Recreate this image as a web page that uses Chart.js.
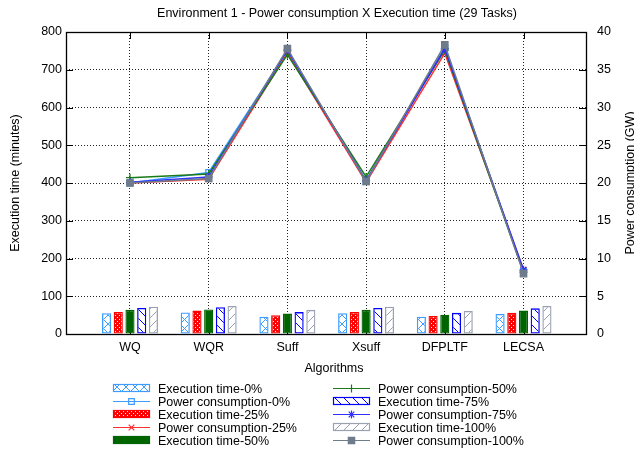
<!DOCTYPE html>
<html><head><meta charset="utf-8">
<script src="https://cdn.jsdelivr.net/npm/chart.js@4.4.1/dist/chart.umd.min.js"></script>
<style>html,body{margin:0;padding:0;background:#fff}canvas{display:block}</style>
</head><body>
<canvas id="c" width="634" height="453"></canvas>
<script>
// ---------- data ----------
const categories = ['WQ', 'WQR', 'Suff', 'Xsuff', 'DFPLTF', 'LECSA'];
// Execution time (minutes) - left axis
const execTime0   = [55, 57, 46, 55, 46, 53];
const execTime25  = [58, 62, 50, 58, 48, 56];
const execTime50  = [64, 65, 54, 64, 51, 62];
const execTime75  = [69, 71, 58, 69, 56, 68];
const execTime100 = [72, 74, 64, 72, 61, 74];
// Power consumption (GW) - right axis
const power0   = [20.0, 21.4, 37.5, 20.2, 37.9, 8.3];
const power25  = [20.0, 20.5, 37.2, 20.1, 37.2, 8.5];
const power50  = [20.7, 21.2, 37.0, 20.8, 37.6, 8.2];
const power75  = [20.1, 20.8, 37.6, 20.3, 37.8, 8.5];
const power100 = [20.0, 20.6, 37.8, 20.2, 38.3, 8.0];
// axis ticks
const leftTicks = [0, 100, 200, 300, 400, 500, 600, 700, 800];
const rightTicks = [0, 5, 10, 15, 20, 25, 30, 35, 40];

const titleText = 'Environment 1 - Power consumption X Execution time (29 Tasks)';
const xTitle = 'Algorithms';
const yTitle = 'Execution time (minutes)';
const y2Title = 'Power consumption (GW)';

// ---------- styles ----------
const FONT = '"Liberation Sans", Arial, Helvetica, sans-serif';
const FS = 12.5;
const C_LB = '#3c9cff', C_RED = '#ff0000', C_GREEN = '#006400', C_BLUE = '#0000ff', C_GRAY = '#9aa2b2';
const L_LB = '#3c9cff', L_RED = '#ff3030', L_GREEN = '#1a7a1a', L_BLUE = '#3030ff', L_GRAY = '#6e7b8b';

const mainCtx = document.getElementById('c').getContext('2d');
function pat(w, h, fn) {
  const c = document.createElement('canvas'); c.width = w; c.height = h;
  const g = c.getContext('2d'); fn(g, w, h);
  return mainCtx.createPattern(c, 'repeat');
}
const P0 = pat(9, 9, (g, w, h) => {
  g.strokeStyle = C_LB; g.lineWidth = 1;
  g.beginPath(); g.moveTo(-1, -1); g.lineTo(w + 1, h + 1); g.moveTo(-1, h + 1); g.lineTo(w + 1, -1); g.stroke();
});
const P25 = pat(4, 4, (g) => {
  g.fillStyle = C_RED; g.fillRect(0, 0, 4, 4);
  g.fillStyle = '#ffffff'; g.fillRect(1, 1, 1, 1); g.fillRect(3, 3, 1, 1);
});
const P75 = pat(9, 9, (g, w, h) => {
  g.strokeStyle = C_BLUE; g.lineWidth = 1;
  g.beginPath(); g.moveTo(-1, -1); g.lineTo(w + 1, h + 1);
  g.moveTo(w - 1, -1); g.lineTo(w + 1, 1); g.moveTo(-1, h - 1); g.lineTo(1, h + 1); g.stroke();
});
const P100 = pat(9, 9, (g, w, h) => {
  g.strokeStyle = C_GRAY; g.lineWidth = 1;
  g.beginPath(); g.moveTo(-1, h + 1); g.lineTo(w + 1, -1);
  g.moveTo(-1, 1); g.lineTo(1, -1); g.moveTo(w - 1, h + 1); g.lineTo(w + 1, h - 1); g.stroke();
});

const xy = arr => arr.map((v, i) => ({x: i, y: v}));

function barDS(label, data, fill, border) {
  return {type: 'bar', label, data: xy(data), yAxisID: 'y', backgroundColor: fill, borderColor: border,
    borderWidth: 1.3, borderSkipped: false, categoryPercentage: 0.744, barPercentage: 0.78, order: 20};
}
function lineDS(label, data, color, style, radius, bg, order) {
  return {type: 'line', label, data: xy(data), yAxisID: 'y1', borderColor: color, borderWidth: 1.5,
    pointStyle: style, pointRadius: radius, pointBorderColor: style === 'rect' && bg !== 'transparent' ? bg : color,
    pointBackgroundColor: bg, pointBorderWidth: 1.3, tension: 0, fill: false, order};
}

const datasets = [
  barDS('Execution time-0%', execTime0, P0, C_LB),
  lineDS('Power consumption-0%', power0, L_LB, 'rect', 4, 'transparent', 5),
  barDS('Execution time-25%', execTime25, P25, C_RED),
  lineDS('Power consumption-25%', power25, L_RED, 'crossRot', 4, L_RED, 4),
  barDS('Execution time-50%', execTime50, C_GREEN, C_GREEN),
  lineDS('Power consumption-50%', power50, L_GREEN, 'cross', 4, L_GREEN, 3),
  barDS('Execution time-75%', execTime75, P75, C_BLUE),
  lineDS('Power consumption-75%', power75, L_BLUE, 'star', 4, L_BLUE, 2),
  barDS('Execution time-100%', execTime100, P100, C_GRAY),
  lineDS('Power consumption-100%', power100, L_GRAY, 'rect', 4.5, L_GRAY, 1),
];

// ---------- decorations ----------
function drawMarker(ctx, style, x, y, r, color, bg) {
  ctx.save(); ctx.strokeStyle = color; ctx.lineWidth = 1.2; ctx.beginPath();
  if (style === 'rect') {
    const s = r * Math.SQRT1_2;
    ctx.rect(x - s, y - s, 2 * s, 2 * s);
    if (bg !== 'transparent') { ctx.fillStyle = bg; ctx.fill(); }
    ctx.stroke();
  } else if (style === 'crossRot') {
    const s = r * Math.SQRT1_2;
    ctx.moveTo(x - s, y - s); ctx.lineTo(x + s, y + s); ctx.moveTo(x - s, y + s); ctx.lineTo(x + s, y - s); ctx.stroke();
  } else if (style === 'cross') {
    ctx.moveTo(x - r, y); ctx.lineTo(x + r, y); ctx.moveTo(x, y - r); ctx.lineTo(x, y + r); ctx.stroke();
  } else if (style === 'star') {
    const s = r * Math.SQRT1_2;
    ctx.moveTo(x - r, y); ctx.lineTo(x + r, y); ctx.moveTo(x, y - r); ctx.lineTo(x, y + r);
    ctx.moveTo(x - s, y - s); ctx.lineTo(x + s, y + s); ctx.moveTo(x - s, y + s); ctx.lineTo(x + s, y - s); ctx.stroke();
  }
  ctx.restore();
}

const deco = {
  id: 'deco',
  beforeDraw(chart) {
    const ctx = chart.ctx; ctx.save(); ctx.fillStyle = '#fff'; ctx.fillRect(0, 0, chart.width, chart.height); ctx.restore();
  },
  beforeDatasetsDraw(chart) {
    const ctx = chart.ctx, a = chart.chartArea;
    const xs = chart.scales.x, ys = chart.scales.y, y2 = chart.scales.y1;
    ctx.save();
    ctx.strokeStyle = '#000'; ctx.lineWidth = 1; ctx.beginPath();
    const T = 7;
    leftTicks.forEach(v => { const p = Math.round(ys.getPixelForValue(v)) + 0.5; ctx.moveTo(a.left, p); ctx.lineTo(a.left + T, p); });
    rightTicks.forEach(v => { const p = Math.round(y2.getPixelForValue(v)) + 0.5; ctx.moveTo(a.right - T, p); ctx.lineTo(a.right, p); });
    categories.forEach((c, i) => { const p = Math.round(xs.getPixelForValue(i)) + 0.5;
      ctx.moveTo(p, a.bottom); ctx.lineTo(p, a.bottom - T); ctx.moveTo(p, a.top); ctx.lineTo(p, a.top + T); });
    ctx.stroke();
    ctx.restore();
  },
  afterDraw(chart) {
    const ctx = chart.ctx, a = chart.chartArea;
    ctx.save();
    // border
    ctx.strokeStyle = '#000'; ctx.lineWidth = 1.3;
    ctx.strokeRect(Math.round(a.left) + 0.5, Math.round(a.top) + 0.5, Math.round(a.right - a.left), Math.round(a.bottom - a.top));
    // texts
    ctx.fillStyle = '#000'; ctx.font = FS + 'px ' + FONT; ctx.textAlign = 'center'; ctx.textBaseline = 'alphabetic';
    ctx.fillText(titleText, 337, 16.5);
    ctx.fillText(xTitle, 334, 372);
    ctx.save(); ctx.translate(19, (a.top + a.bottom) / 2); ctx.rotate(-Math.PI / 2); ctx.fillText(yTitle, 0, 0); ctx.restore();
    ctx.save(); ctx.translate(634, (a.top + a.bottom) / 2); ctx.rotate(-Math.PI / 2); ctx.fillText(y2Title, 0, 0); ctx.restore();
    // legend (column-major, 2 columns x 5 rows)
    const rowsY = [388, 401, 414, 427, 440];
    const colX = [113, 333];
    const SW = 37;
    chart.data.datasets.forEach((ds, i) => {
      const col = Math.floor(i / 5), row = i % 5;
      const x = colX[col], y = rowsY[row];
      if (ds.type === 'bar') {
        ctx.save();
        ctx.fillStyle = ds.backgroundColor; ctx.fillRect(x, y - 3.5, SW, 7);
        ctx.strokeStyle = ds.borderColor; ctx.lineWidth = 1.2; ctx.strokeRect(x + 0.5, y - 3.5, SW - 1, 7);
        ctx.restore();
      } else {
        ctx.save(); ctx.strokeStyle = ds.borderColor; ctx.lineWidth = 1.2; ctx.beginPath();
        ctx.moveTo(x, Math.round(y) + 0.5); ctx.lineTo(x + SW, Math.round(y) + 0.5); ctx.stroke(); ctx.restore();
        drawMarker(ctx, ds.pointStyle, x + SW / 2, Math.round(y) + 0.5, ds.pointRadius, ds.borderColor, ds.pointBackgroundColor);
      }
      ctx.fillStyle = '#000'; ctx.textAlign = 'left'; ctx.textBaseline = 'alphabetic';
      ctx.fillText(ds.label, x + 45, y + 4.5);
    });
    ctx.restore();
  }
};

Chart.defaults.font.family = FONT;
Chart.defaults.font.size = FS;
Chart.defaults.color = '#000';

new Chart(document.getElementById('c'), {
  data: {datasets},
  options: {
    responsive: false, animation: false, devicePixelRatio: 1,
    layout: {padding: {top: 32, left: 0, right: 0, bottom: 0}},
    plugins: {legend: {display: false}, title: {display: false}, tooltip: {enabled: false}},
    scales: {
      x: {
        type: 'linear', min: -0.813, max: 5.794, offset: false,
        afterBuildTicks: s => { s.ticks = categories.map((c, i) => ({value: i})); },
        afterFit: s => { s.height = 119; },
        ticks: {callback: v => categories[v] !== undefined ? categories[v] : '', autoSkip: false, maxRotation: 0, padding: 6},
        grid: {color: '#222', lineWidth: 1, drawTicks: false, offset: false},
        border: {display: false, dash: [1, 2]}
      },
      y: {
        type: 'linear', position: 'left', min: 0, max: 800,
        afterBuildTicks: s => { s.ticks = leftTicks.map(v => ({value: v})); },
        afterFit: s => { s.width = 66; },
        ticks: {padding: 4},
        grid: {color: '#222', lineWidth: 1, drawTicks: false},
        border: {display: false, dash: [1, 2]}
      },
      y1: {
        type: 'linear', position: 'right', min: 0, max: 40,
        afterBuildTicks: s => { s.ticks = rightTicks.map(v => ({value: v})); },
        afterFit: s => { s.width = 48; },
        ticks: {padding: 11},
        grid: {display: false, drawTicks: false},
        border: {display: false}
      }
    }
  },
  plugins: [deco]
});
</script>
</body></html>
